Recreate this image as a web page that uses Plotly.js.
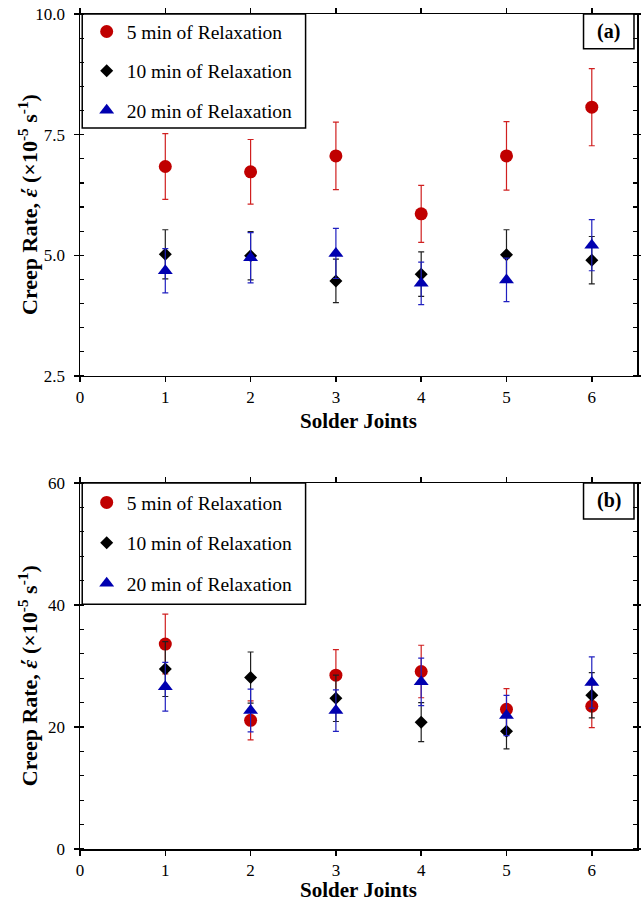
<!DOCTYPE html>
<html>
<head>
<meta charset="utf-8">
<script src="https://cdn.plot.ly/plotly-3.0.1.min.js"></script>
<style>html,body{margin:0;padding:0;background:#fff;}#chart{width:641px;height:902px;}</style>
</head>
<body>
<div id="chart"></div>
<script>
const joints = [1, 2, 3, 4, 5, 6];
const seriesNames = ['5 min of Relaxation', '10 min of Relaxation', '20 min of Relaxation'];

// Panel (a)
const a5 = [6.84, 6.73, 7.06, 5.86, 7.06, 8.07];
const a5Err = [0.68, 0.67, 0.70, 0.59, 0.71, 0.80];
const a10 = [5.02, 4.99, 4.47, 4.61, 5.01, 4.90];
const a10Err = [0.51, 0.50, 0.45, 0.46, 0.52, 0.49];
const a20 = [4.68, 4.95, 5.04, 4.42, 4.49, 5.21];
const a20Err = [0.46, 0.52, 0.52, 0.44, 0.45, 0.53];

// Panel (b)
const b5 = [33.6, 21.1, 28.5, 29.1, 22.9, 23.4];
const b5Err = [4.9, 3.2, 4.2, 4.3, 3.4, 3.5];
const b10 = [29.5, 28.1, 24.7, 20.8, 19.3, 25.2];
const b10Err = [4.5, 4.2, 3.8, 3.2, 2.9, 3.7];
const b20 = [26.6, 22.7, 22.7, 27.4, 21.9, 27.3];
const b20Err = [4.0, 3.5, 3.4, 3.9, 3.3, 4.2];

const xTicks = [0, 1, 2, 3, 4, 5, 6];
const aTicks = [2.5, 5.0, 7.5, 10.0];
const bTicks = [0, 20, 40, 60];

const serif = 'Liberation Serif, Times New Roman, serif';
const colors = ['#C00000', '#000000', '#0000B0'];
const errColors = ['#D02020', '#202020', '#2020C0'];
const symbols = ['circle', 'diamond', 'triangle-up'];
const sizes = [13, 10, 13];

function mk(y, err, i, xa, ya, leg) {
  return {
    x: joints, y: y, type: 'scatter', mode: 'markers',
    name: seriesNames[i], xaxis: xa, yaxis: ya, legend: leg,
    legendgroup: leg + i,
    marker: {color: colors[i], symbol: symbols[i], size: sizes[i]},
    error_y: {type: 'data', array: err, visible: true, color: errColors[i], thickness: 1.2, width: 3}
  };
}

const traces = [
  mk(a5, a5Err, 0, 'x', 'y', 'legend'),
  mk(a10, a10Err, 1, 'x', 'y', 'legend'),
  mk(a20, a20Err, 2, 'x', 'y', 'legend'),
  mk(b5, b5Err, 0, 'x2', 'y2', 'legend2'),
  mk(b10, b10Err, 1, 'x2', 'y2', 'legend2'),
  mk(b20, b20Err, 2, 'x2', 'y2', 'legend2')
];

const xr = [0, 6.53];
const tickFont = {family: serif, size: 17, color: '#000'};
const titleFont = {family: serif, size: 21, color: '#000', weight: 'bold'};
const yTitleFont = {family: serif, size: 22, color: '#000', weight: 'bold'};
const yTitle = '<b>Creep Rate, <i>έ</i> (×10<sup>-5</sup> s<sup>-1</sup>)</b>';

function xAxis(anchor) {
  return {
    range: xr, anchor: anchor, tickvals: xTicks, ticktext: xTicks.map(String),
    ticks: 'outside', ticklen: 5, tickwidth: 1.5, tickcolor: '#000',
    showline: true, linewidth: 1.5, linecolor: '#000', mirror: 'allticks',
    showgrid: false, zeroline: false, tickfont: tickFont,
    title: {text: 'Solder Joints', font: titleFont, standoff: 7}
  };
}
function yAxis(anchor, domain, range, vals, fmt, minorD) {
  return {
    domain: domain, range: range, anchor: anchor, tickvals: vals,
    ticktext: vals.map(v => fmt(v)),
    ticks: 'outside', ticklen: 5, tickwidth: 1.5, tickcolor: '#000',
    minor: {dtick: minorD, ticks: 'inside', ticklen: 4, tickwidth: 1.2, tickcolor: '#000', showgrid: false},
    showline: true, linewidth: 1.5, linecolor: '#000', mirror: 'allticks',
    showgrid: false, zeroline: false, tickfont: tickFont, ticklabelstandoff: 5
  };
}
function overlayX(base, anchor) {
  return {overlaying: base, anchor: anchor, range: xr, tickvals: xTicks, ticks: 'inside', ticklen: 4,
    tickwidth: 1.5, tickcolor: '#000', mirror: 'allticks', showline: false, showgrid: false,
    zeroline: false, showticklabels: false};
}
function overlayY(base, anchor, range, vals) {
  return {overlaying: base, anchor: anchor, range: range, tickvals: vals, ticks: 'inside', ticklen: 4,
    tickwidth: 1.5, tickcolor: '#000', mirror: 'allticks', showline: false, showgrid: false,
    zeroline: false, showticklabels: false};
}

const aDom = [0.5665, 1];
const bDom = [0, 0.4383];

function boxes(xref, yref, yBottomLegend, yBottomTag) {
  return [
    {type: 'rect', xref: xref + ' domain', yref: yref + ' domain', x0: 0.004, x1: 0.405, y0: yBottomLegend, y1: 1,
      line: {color: '#000', width: 1.5}, fillcolor: 'rgba(0,0,0,0)'},
    {type: 'rect', xref: xref + ' domain', yref: yref + ' domain', x0: 0.904, x1: 0.9946, y0: yBottomTag, y1: 1,
      line: {color: '#000', width: 1.5}, fillcolor: 'rgba(0,0,0,0)'}
  ];
}

const legFont = {family: serif, size: 19.5, color: '#000'};

const layout = {
  width: 641, height: 902,
  margin: {l: 80, r: 4, t: 14, b: 53},
  paper_bgcolor: '#fff', plot_bgcolor: '#fff',
  showlegend: true,
  xaxis: xAxis('y'),
  yaxis: yAxis('x', aDom, [2.5, 10], aTicks, v => v.toFixed(1), 0.5),
  xaxis2: xAxis('y2'),
  yaxis2: yAxis('x2', bDom, [0, 60], bTicks, v => String(v), 4),
  xaxis3: overlayX('x', 'y'),
  yaxis3: overlayY('y', 'x', [2.5, 10], aTicks),
  xaxis4: overlayX('x2', 'y2'),
  yaxis4: overlayY('y2', 'x2', [0, 60], bTicks),
  legend: {x: 0.012, xanchor: 'left', y: 1.002, yanchor: 'top',
    bgcolor: 'rgba(0,0,0,0)', borderwidth: 0, font: legFont,
    traceorder: 'grouped', tracegroupgap: 11, itemwidth: 30},
  legend2: {x: 0.012, xanchor: 'left', y: 0.438, yanchor: 'top',
    bgcolor: 'rgba(0,0,0,0)', borderwidth: 0, font: legFont,
    traceorder: 'grouped', tracegroupgap: 12, itemwidth: 30},
  shapes: boxes('x', 'y', 0.685, 0.904).concat(boxes('x2', 'y2', 0.669, 0.902)),
  annotations: [
    {xref: 'x domain', yref: 'y domain', x: 0.949, y: 0.952, text: '<b>(a)</b>', showarrow: false,
      font: {family: serif, size: 20, color: '#000'}, xanchor: 'center', yanchor: 'middle'},
    {xref: 'x2 domain', yref: 'y2 domain', x: 0.949, y: 0.951, text: '<b>(b)</b>', showarrow: false,
      font: {family: serif, size: 20, color: '#000'}, xanchor: 'center', yanchor: 'middle'},
    {xref: 'paper', yref: 'y domain', x: -0.0934, y: 0.475, text: yTitle, textangle: -90, showarrow: false,
      font: yTitleFont, xanchor: 'center', yanchor: 'middle'},
    {xref: 'paper', yref: 'y2 domain', x: -0.0934, y: 0.475, text: yTitle, textangle: -90, showarrow: false,
      font: yTitleFont, xanchor: 'center', yanchor: 'middle'}
  ]
};

Plotly.newPlot('chart', traces, layout, {displayModeBar: false, staticPlot: true});
</script>
</body>
</html>
